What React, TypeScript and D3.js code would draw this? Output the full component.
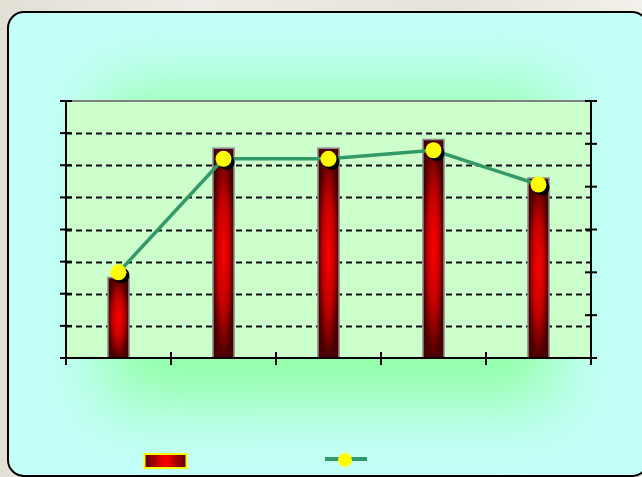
import React from "react";
import * as d3 from "d3";

// Categories along the x axis (no labels are printed)
const categories = ["c1", "c2", "c3", "c4", "c5"];
// Bar series, read against the left axis
const barValues = [25, 65.3, 65.3, 68, 56];
// Line series, read against the right axis
const lineValues = [20, 46.5, 46.5, 48.5, 40.5];
// Axis tick values
const leftTicks = [0, 10, 20, 30, 40, 50, 60, 70, 80];
const rightTicks = [0, 10, 20, 30, 40, 50, 60];

const W = 642;
const H = 477;
const plot = { left: 66, right: 591, top: 101, bottom: 358 };

export default function App() {
  const x = d3
    .scaleBand<string>()
    .domain(categories)
    .range([plot.left, plot.right])
    .padding(0);
  const yL = d3.scaleLinear().domain([0, 80]).range([plot.bottom, plot.top]);
  const yR = d3.scaleLinear().domain([0, 60]).range([plot.bottom, plot.top]);
  const barW = x.bandwidth() * 0.2;
  const cx = (c: string) => (x(c) as number) + x.bandwidth() / 2;

  const line = d3
    .line<number>()
    .x((_, i) => cx(categories[i]))
    .y((d) => yR(d));

  const xTickPos = [...categories.map((c) => x(c) as number), plot.right];
  const gridTicks = leftTicks.slice(1, -1);

  return (
    <svg
      width={W}
      height={H}
      style={{ position: "absolute", left: 0, top: 0, display: "block" }}
    >
      <defs>
        <radialGradient id="barFill" cx="0.5" cy="0.5" r="0.5">
          <stop offset="0%" stopColor="#ff0000" />
          <stop offset="55%" stopColor="#c00000" />
          <stop offset="100%" stopColor="#4a0000" />
        </radialGradient>
        <linearGradient id="swatchFill" x1="0" x2="1" y1="0" y2="0">
          <stop offset="0%" stopColor="#5a0000" />
          <stop offset="50%" stopColor="#ff0000" />
          <stop offset="100%" stopColor="#5a0000" />
        </linearGradient>
        <linearGradient id="backdrop" x1="0" x2="1" y1="0" y2="0">
          <stop offset="0%" stopColor="#e2dfd5" />
          <stop offset="30%" stopColor="#eeece6" />
          <stop offset="70%" stopColor="#e6e3da" />
          <stop offset="100%" stopColor="#f2f0ea" />
        </linearGradient>
        <filter id="glow" x="-50%" y="-50%" width="200%" height="200%">
          <feGaussianBlur stdDeviation="32" />
        </filter>
        <clipPath id="frameClip">
          <rect x={8} y={12} width={640} height={464} rx={16} />
        </clipPath>
      </defs>

      {/* page backdrop */}
      <rect x={0} y={0} width={W} height={H} fill="url(#backdrop)" />

      {/* chart frame */}
      <rect x={8} y={12} width={640} height={464} rx={16} fill="#c4fff8" />
      <g clipPath="url(#frameClip)">
        <rect
          x={105}
          y={88}
          width={450}
          height={315}
          fill="#8cff9c"
          filter="url(#glow)"
          opacity={0.9}
        />
      </g>
      <rect
        x={8}
        y={12}
        width={640}
        height={464}
        rx={16}
        fill="none"
        stroke="#000"
        strokeWidth={2}
      />

      {/* plot area */}
      <rect
        x={plot.left}
        y={plot.top}
        width={plot.right - plot.left}
        height={plot.bottom - plot.top}
        fill="#ccffcc"
      />
      <line
        x1={plot.left - 6}
        x2={plot.right + 6}
        y1={plot.top}
        y2={plot.top}
        stroke="#808080"
        strokeWidth={2}
      />

      {/* dashed gridlines */}
      {gridTicks.map((t) => (
        <line
          key={`g${t}`}
          x1={plot.left}
          x2={plot.right}
          y1={Math.round(yL(t)) + 0.5}
          y2={Math.round(yL(t)) + 0.5}
          stroke="#111"
          strokeWidth={2}
          strokeDasharray="6,4"
        />
      ))}

      {/* bars */}
      {categories.map((c, i) => (
        <rect
          key={`b${c}`}
          x={cx(c) - barW / 2}
          y={yL(barValues[i])}
          width={barW}
          height={plot.bottom - yL(barValues[i])}
          fill="url(#barFill)"
          stroke="#8a8a8a"
          strokeWidth={1.6}
        />
      ))}

      {/* axes */}
      <line x1={plot.left} x2={plot.left} y1={plot.top} y2={plot.bottom + 7} stroke="#000" strokeWidth={2} />
      <line x1={plot.right} x2={plot.right} y1={plot.top} y2={plot.bottom + 7} stroke="#000" strokeWidth={2} />
      <line x1={plot.left - 6} x2={plot.right + 6} y1={plot.bottom} y2={plot.bottom} stroke="#000" strokeWidth={2} />
      {leftTicks.map((t) => (
        <line key={`lt${t}`} x1={plot.left - 6} x2={plot.left + 6} y1={yL(t)} y2={yL(t)} stroke="#000" strokeWidth={2} />
      ))}
      {rightTicks.map((t) => (
        <line key={`rt${t}`} x1={plot.right - 6} x2={plot.right + 6} y1={yR(t)} y2={yR(t)} stroke="#000" strokeWidth={2} />
      ))}
      {xTickPos.map((p, i) => (
        <line key={`xt${i}`} x1={p} x2={p} y1={plot.bottom - 6} y2={plot.bottom + 7} stroke="#000" strokeWidth={2} />
      ))}

      {/* line series */}
      <path d={line(lineValues) || ""} fill="none" stroke="#339966" strokeWidth={3.5} />
      {lineValues.map((v, i) => (
        <g key={`m${i}`}>
          <circle cx={cx(categories[i]) + 3} cy={yR(v) + 3} r={8} fill="#000" />
          <circle cx={cx(categories[i])} cy={yR(v)} r={8} fill="#ffff00" />
        </g>
      ))}

      {/* legend */}
      <rect x={144.5} y={454} width={42} height={14} fill="url(#swatchFill)" stroke="#ffff00" strokeWidth={2} />
      <line x1={325} x2={367} y1={459} y2={459} stroke="#339966" strokeWidth={4} />
      <circle cx={345} cy={460} r={7} fill="#ffff00" />
    </svg>
  );
}
